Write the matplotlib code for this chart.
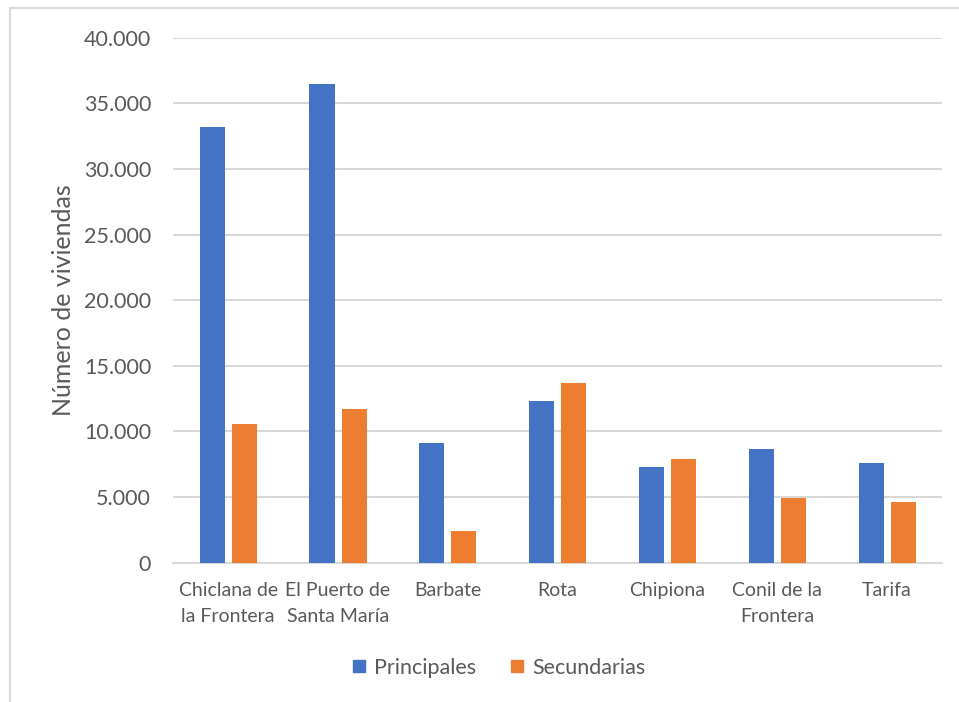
import matplotlib
matplotlib.use("Agg")
import matplotlib.pyplot as plt
import numpy as np
from matplotlib.lines import Line2D

# Housing data by municipality
municipios = ["Chiclana de\nla Frontera", "El Puerto de\nSanta María", "Barbate", "Rota",
              "Chipiona", "Conil de la\nFrontera", "Tarifa"]
principales = [33200, 36500, 9100, 12300, 7300, 8700, 7600]
secundarias = [10550, 11700, 2440, 13670, 7900, 4900, 4600]
yticks = [0, 5000, 10000, 15000, 20000, 25000, 30000, 35000, 40000]
ytick_labels = ["0", "5.000", "10.000", "15.000", "20.000", "25.000", "30.000", "35.000", "40.000"]

BLUE = "#4472C4"
ORANGE = "#ED7D31"
GRAY_TXT = "#595959"
GRID = "#D9D9D9"

plt.rcParams["font.family"] = ["Lato", "DejaVu Sans"]

W, H = 959, 702
fig = plt.figure(figsize=(W / 100, H / 100), dpi=100)

# plot area in pixels: left 173, right 942, top 37.7 (40000), bottom 562.7 (0)
left, right, top, bottom = 173.3, 942, 37.7, 562.7
ax = fig.add_axes([left / W, 1 - bottom / H, (right - left) / W, (bottom - top) / H])

x = np.arange(len(municipios))
bw = 0.228
off = 0.146
ax.bar(x - off, principales, width=bw, color=BLUE, label="Principales", zorder=3)
ax.bar(x + off, secundarias, width=bw, color=ORANGE, label="Secundarias", zorder=3)

ax.set_xlim(-0.5, len(municipios) - 0.5)
ax.set_ylim(0, 40000)
ax.set_yticks(yticks)
ax.set_yticklabels(ytick_labels)
ax.set_xticks(x)
ax.set_xticklabels(municipios, linespacing=1.6)

ax.grid(axis="y", color=GRID, linewidth=1.5, zorder=0)
for s in ["top", "right", "left"]:
    ax.spines[s].set_visible(False)
ax.spines["bottom"].set_color(GRID)
ax.spines["bottom"].set_linewidth(1.5)
ax.tick_params(axis="both", length=0, colors=GRAY_TXT)
ax.tick_params(axis="y", labelsize=15.5, pad=16)
ax.tick_params(axis="x", labelsize=14, pad=14)

ax.set_ylabel("Número de viviendas", fontsize=18, color=GRAY_TXT, labelpad=6)

# legend
handles = [Line2D([0], [0], marker="s", linestyle="", markersize=9, color=BLUE),
           Line2D([0], [0], marker="s", linestyle="", markersize=9, color=ORANGE)]
fig.legend(handles, ["Principales", "Secundarias"], loc="center",
           bbox_to_anchor=(498 / W, 1 - 668 / H), ncol=2, frameon=False,
           fontsize=15.5, labelcolor=GRAY_TXT, handlelength=0.8, handletextpad=0.3,
           columnspacing=1.5)

# chart frame lines (top and left)
fig.add_artist(Line2D([10 / W, 1], [1 - 8 / H, 1 - 8 / H], color=GRID, linewidth=1.5,
                      transform=fig.transFigure))
fig.add_artist(Line2D([10 / W, 10 / W], [0, 1 - 8 / H], color=GRID, linewidth=1.5,
                      transform=fig.transFigure))

fig.savefig("out.png", dpi=100)
